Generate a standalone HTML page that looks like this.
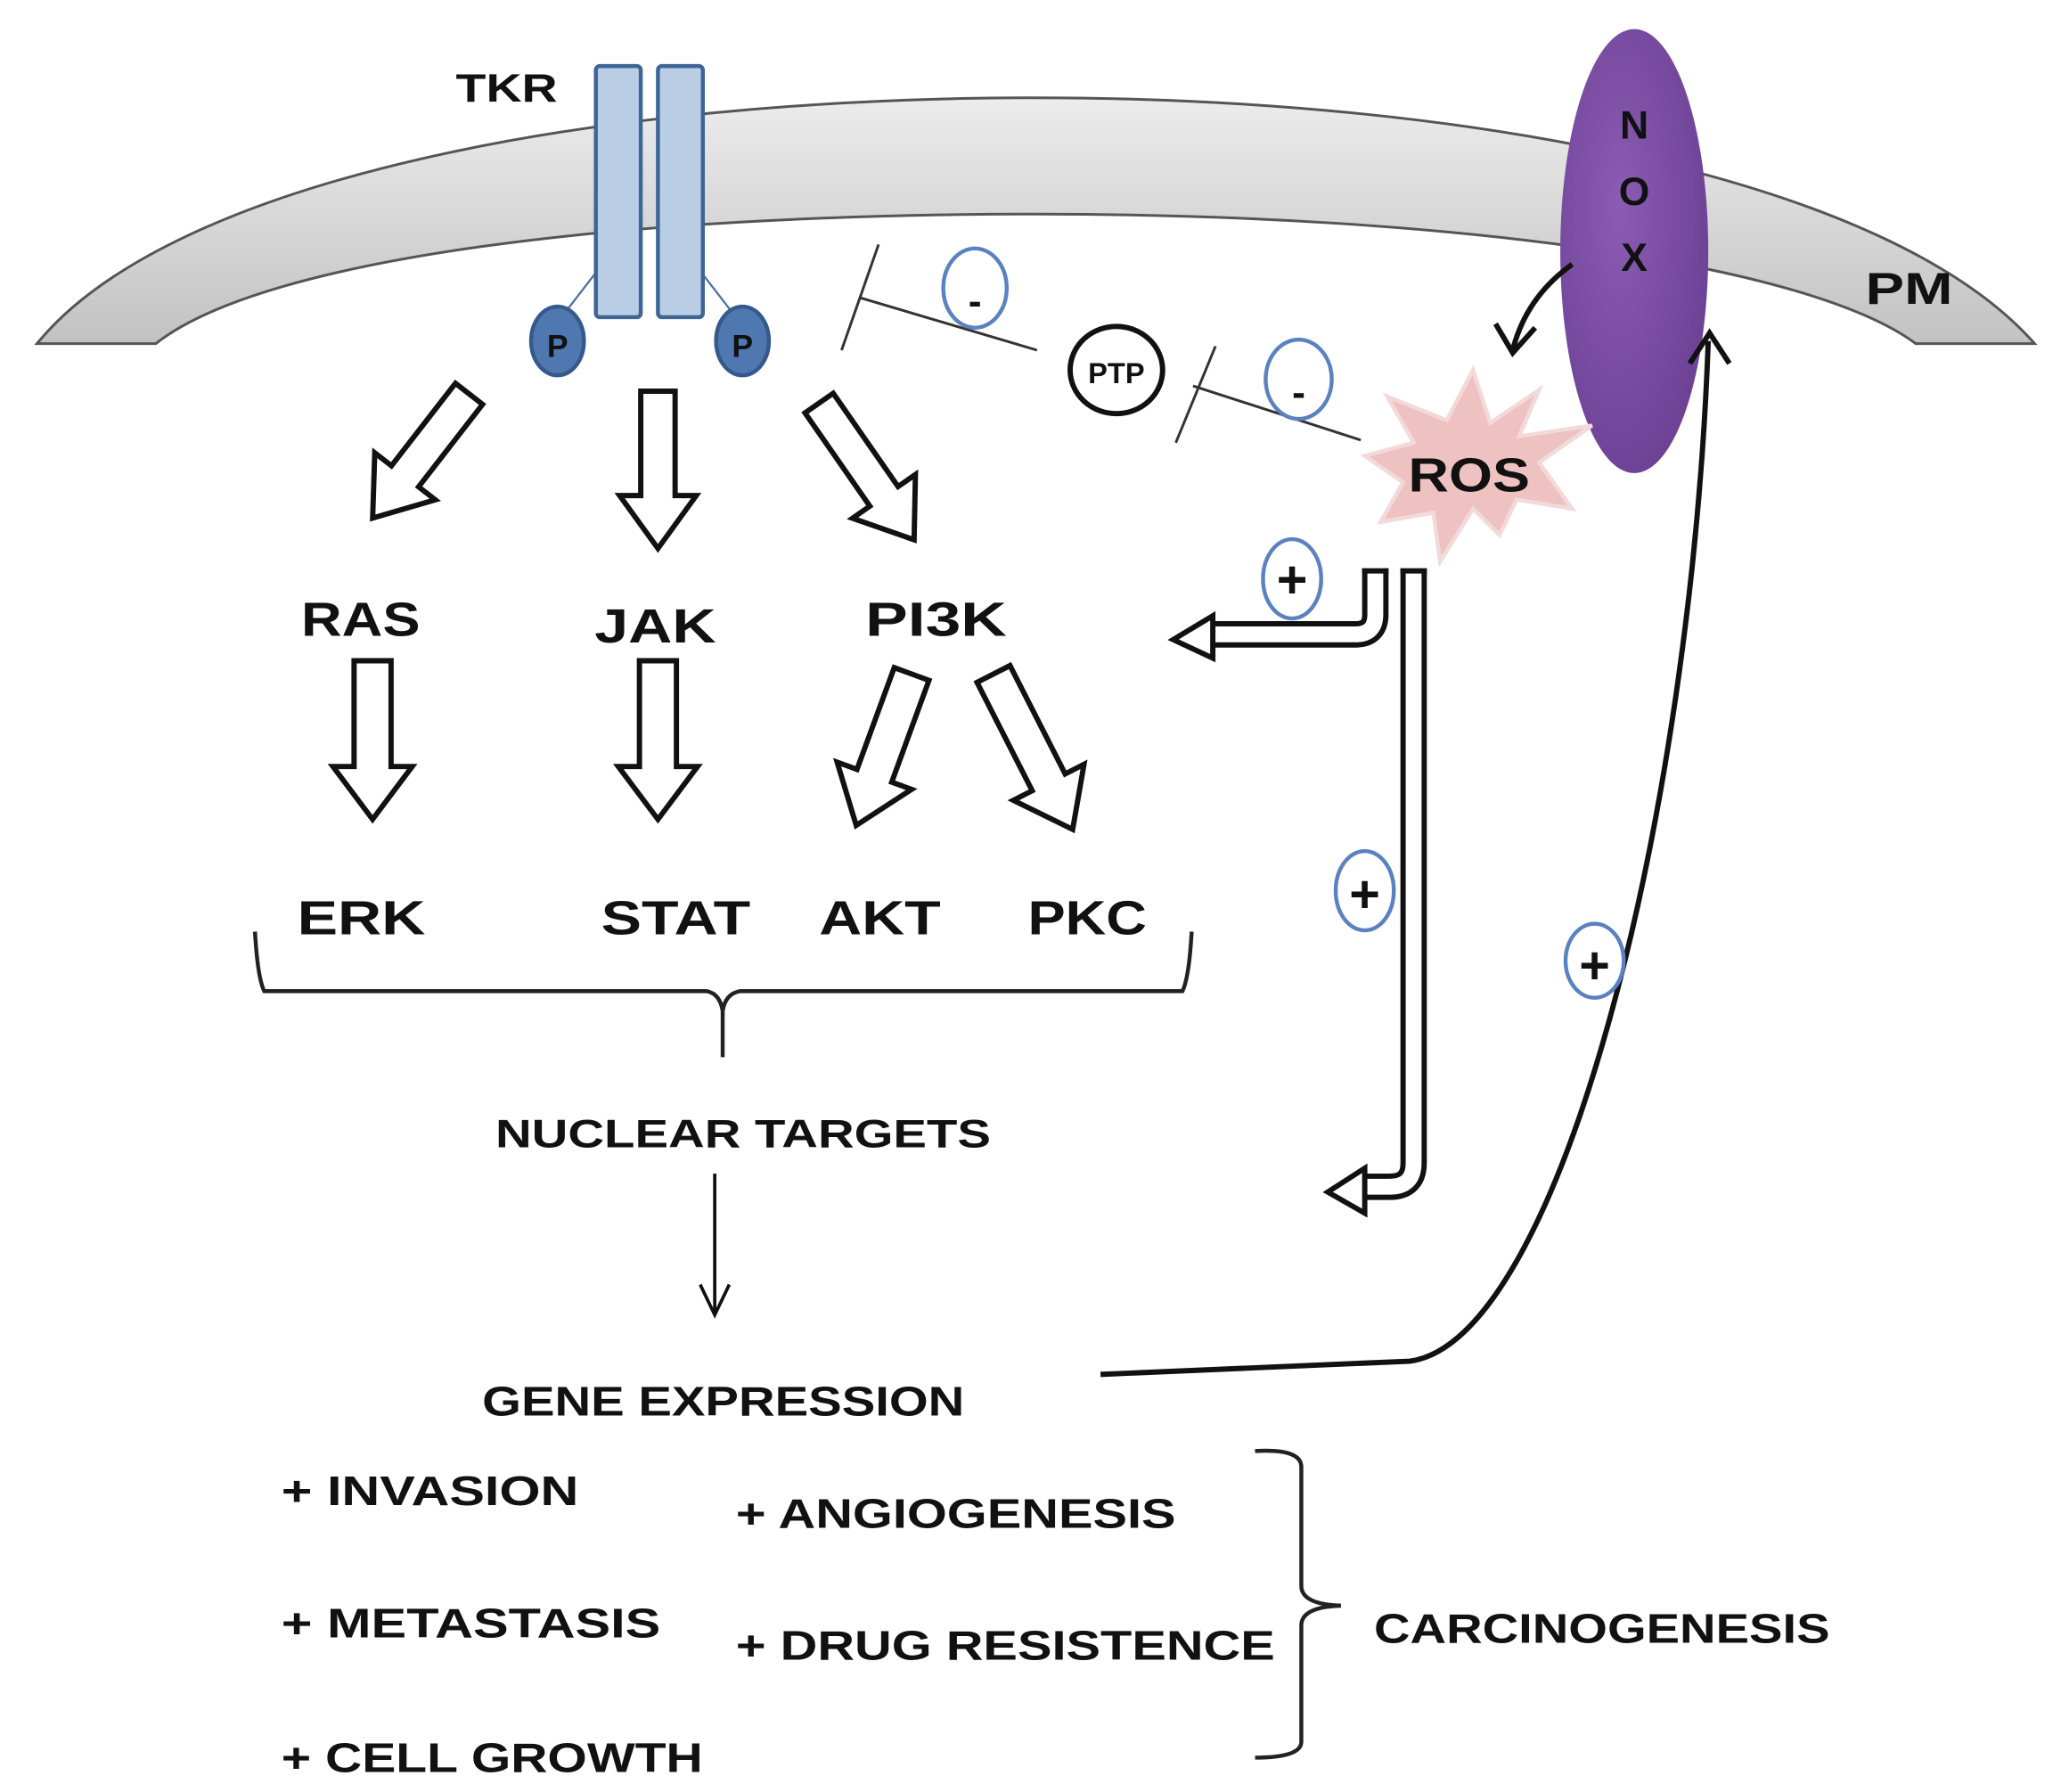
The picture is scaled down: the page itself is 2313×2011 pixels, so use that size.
<!DOCTYPE html>
<html><head><meta charset="utf-8"><style>
html,body{margin:0;padding:0;background:#fff;}
svg{display:block;}
text{font-family:"Liberation Sans",sans-serif;font-weight:bold;fill:#111;}
</style></head><body>
<svg width="2313" height="2011" viewBox="0 0 1560 1356" preserveAspectRatio="none" xmlns="http://www.w3.org/2000/svg">
<defs>
<linearGradient id="mem" x1="0" y1="0" x2="0" y2="1">
<stop offset="0" stop-color="#ececec"/><stop offset="1" stop-color="#c2c2c2"/>
</linearGradient>
<radialGradient id="nox" cx="0.4" cy="0.4" r="0.7">
<stop offset="0" stop-color="#8a5cb3"/><stop offset="1" stop-color="#6a3f92"/>
</radialGradient>
</defs>

<!-- membrane -->
<path d="M28,260 C130,135 450,74 784,74 C1110,74 1430,135 1540,260 L1450,260 C1370,200 1100,162 784,162 C470,162 200,195 118,260 Z" fill="url(#mem)" stroke="#555" stroke-width="2"/>
<text x="345" y="77" font-size="30" textLength="77" lengthAdjust="spacingAndGlyphs">TKR</text>
<text x="1412" y="230" font-size="34" textLength="66" lengthAdjust="spacingAndGlyphs">PM</text>

<!-- TKR -->
<line x1="452" y1="205" x2="425" y2="240" stroke="#4a6fa0" stroke-width="1.5"/>
<line x1="530" y1="205" x2="557" y2="240" stroke="#4a6fa0" stroke-width="1.5"/>
<rect x="451" y="50" width="34" height="190" rx="3" fill="#b9cde5" stroke="#3f6596" stroke-width="3"/>
<rect x="498" y="50" width="34" height="190" rx="3" fill="#b9cde5" stroke="#3f6596" stroke-width="3"/>
<ellipse cx="422" cy="258" rx="20" ry="26" fill="#4f78b0" stroke="#35598a" stroke-width="3"/>
<ellipse cx="562" cy="258" rx="20" ry="26" fill="#4f78b0" stroke="#35598a" stroke-width="3"/>
<text x="422" y="270" font-size="24" text-anchor="middle">P</text>
<text x="562" y="270" font-size="24" text-anchor="middle">P</text>

<!-- NOX -->
<ellipse cx="1237" cy="190" rx="56" ry="168" fill="url(#nox)"/>
<text x="1237" y="105" font-size="30" text-anchor="middle">N</text>
<text x="1237" y="155" font-size="30" text-anchor="middle">O</text>
<text x="1237" y="205" font-size="30" text-anchor="middle">X</text>

<!-- inhibition -->
<line x1="785" y1="265" x2="650" y2="225" stroke="#333" stroke-width="2"/>
<line x1="665" y1="185" x2="637" y2="265" stroke="#333" stroke-width="2"/>
<ellipse cx="738" cy="218" rx="24" ry="30" fill="#fff" stroke="#5b82c0" stroke-width="3"/>
<text x="738" y="238" font-size="30" text-anchor="middle">-</text>
<ellipse cx="845" cy="280" rx="35" ry="33" fill="#fff" stroke="#111" stroke-width="4"/>
<text x="845" y="290" font-size="22" text-anchor="middle">PTP</text>
<line x1="1030" y1="333" x2="903" y2="292" stroke="#333" stroke-width="2"/>
<line x1="920" y1="262" x2="890" y2="335" stroke="#333" stroke-width="2"/>
<ellipse cx="983" cy="287" rx="25" ry="30" fill="#fff" stroke="#5b82c0" stroke-width="3"/>
<text x="983" y="307" font-size="30" text-anchor="middle">-</text>

<!-- ROS -->
<polygon points="1115,280 1128,320 1165,295 1150,330 1205,322 1165,350 1190,385 1148,378 1135,405 1115,385 1090,425 1085,388 1045,395 1062,365 1033,345 1070,335 1050,300 1095,318" fill="#efc2c2" stroke="#f3dada" stroke-width="3"/>
<text x="1066" y="372" font-size="36" textLength="92" lengthAdjust="spacingAndGlyphs">ROS</text>

<!-- NOX -> ROS -->
<path d="M1190,200 Q1155,225 1145,265" fill="none" stroke="#111" stroke-width="4"/>
<polyline points="1132,245 1145,267 1162,248" fill="none" stroke="#111" stroke-width="4"/>

<!-- feedback curve -->
<path d="M833,1040 L1067,1030 C1180,1015 1280,620 1293,258" fill="none" stroke="#111" stroke-width="4"/>
<polyline points="1279,275 1294,252 1309,275" fill="none" stroke="#111" stroke-width="4"/>

<!-- ROS bent arrows -->
<path d="M1041,430 V465 Q1041,480 1026,480 H915" fill="none" stroke="#111" stroke-width="20"/>
<path d="M1041,430 V465 Q1041,480 1026,480 H915" fill="none" stroke="#fff" stroke-width="12"/>
<polygon points="918,466 888,484 918,498" fill="#fff" stroke="#111" stroke-width="4"/>
<path d="M1070,430 V880 Q1070,898 1052,898 H1030" fill="none" stroke="#111" stroke-width="20"/>
<path d="M1070,430 V880 Q1070,898 1052,898 H1030" fill="none" stroke="#fff" stroke-width="12"/>
<polygon points="1033,884 1005,902 1033,918" fill="#fff" stroke="#111" stroke-width="4"/>
<line x1="1060" y1="432" x2="1080" y2="432" stroke="#111" stroke-width="4"/>
<line x1="1031" y1="432" x2="1051" y2="432" stroke="#111" stroke-width="4"/>

<!-- plus circles -->
<g stroke="#5b82c0" stroke-width="3" fill="#fff">
<ellipse cx="978" cy="438" rx="22" ry="30"/>
<ellipse cx="1033" cy="674" rx="22" ry="30"/>
<ellipse cx="1207" cy="727" rx="22" ry="28"/>
</g>
<text x="978" y="452" font-size="40" text-anchor="middle">+</text>
<text x="1033" y="690" font-size="40" text-anchor="middle">+</text>
<text x="1207" y="744" font-size="40" text-anchor="middle">+</text>

<!-- block arrows -->
<g fill="#fff" stroke="#111" stroke-width="4" stroke-linejoin="miter">
<g transform="translate(355,298) rotate(37.8)"><polygon points="-13,0 13,0 13,79 29,79 0,119 -29,79 -13,79"/></g>
<g transform="translate(498,296)"><polygon points="-13,0 13,0 13,79 29,79 0,119 -29,79 -13,79"/></g>
<g transform="translate(620,305) rotate(-34.8)"><polygon points="-13,0 13,0 13,86 29,86 0,126 -29,86 -13,86"/></g>
<g transform="translate(282,500)"><polygon points="-14,0 14,0 14,80 30,80 0,120 -30,80 -14,80"/></g>
<g transform="translate(498,500)"><polygon points="-14,0 14,0 14,80 30,80 0,120 -30,80 -14,80"/></g>
<g transform="translate(690,510) rotate(20.1)"><polygon points="-14,0 14,0 14,82 30,82 0,122 -30,82 -14,82"/></g>
<g transform="translate(752,510) rotate(-27)"><polygon points="-14,0 14,0 14,92 30,92 0,132 -30,92 -14,92"/></g>
</g>

<!-- labels -->
<g font-size="36">
<text x="228" y="481" textLength="90" lengthAdjust="spacingAndGlyphs">RAS</text>
<text x="450" y="486" textLength="92" lengthAdjust="spacingAndGlyphs">JAK</text>
<text x="655" y="481" textLength="107" lengthAdjust="spacingAndGlyphs">PI3K</text>
<text x="225" y="707" textLength="97" lengthAdjust="spacingAndGlyphs">ERK</text>
<text x="455" y="707" textLength="113" lengthAdjust="spacingAndGlyphs">STAT</text>
<text x="620" y="707" textLength="92" lengthAdjust="spacingAndGlyphs">AKT</text>
<text x="778" y="707" textLength="90" lengthAdjust="spacingAndGlyphs">PKC</text>
</g>

<!-- brace -->
<path d="M193,705 Q195,740 200,750 H535 Q545,752 547,765 V800 M547,765 Q549,752 560,750 H895 Q900,740 902,705" fill="none" stroke="#222" stroke-width="3"/>

<text x="375" y="868" font-size="30" textLength="375" lengthAdjust="spacingAndGlyphs">NUCLEAR TARGETS</text>
<line x1="541" y1="888" x2="541" y2="993" stroke="#111" stroke-width="2.5"/>
<polyline points="530,972 541,995 552,972" fill="none" stroke="#111" stroke-width="2.5"/>
<text x="365" y="1071" font-size="31" textLength="365" lengthAdjust="spacingAndGlyphs">GENE EXPRESSION</text>

<g font-size="31">
<text x="213" y="1139" textLength="225" lengthAdjust="spacingAndGlyphs">+  INVASION</text>
<text x="213" y="1239" textLength="287" lengthAdjust="spacingAndGlyphs">+  METASTASIS</text>
<text x="213" y="1341" textLength="319" lengthAdjust="spacingAndGlyphs">+  CELL GROWTH</text>
<text x="557" y="1156" textLength="333" lengthAdjust="spacingAndGlyphs">+ ANGIOGENESIS</text>
<text x="557" y="1256" textLength="408" lengthAdjust="spacingAndGlyphs">+ DRUG RESISTENCE</text>
<text x="1040" y="1243" textLength="345" lengthAdjust="spacingAndGlyphs">CARCINOGENESIS</text>
</g>
<path d="M950,1098 Q985,1096 985,1110 V1200 Q985,1214 1015,1215 M985,1230 Q985,1216 1015,1215 M985,1230 V1318 Q985,1330 950,1330" fill="none" stroke="#222" stroke-width="3"/>
</svg>
</body></html>
